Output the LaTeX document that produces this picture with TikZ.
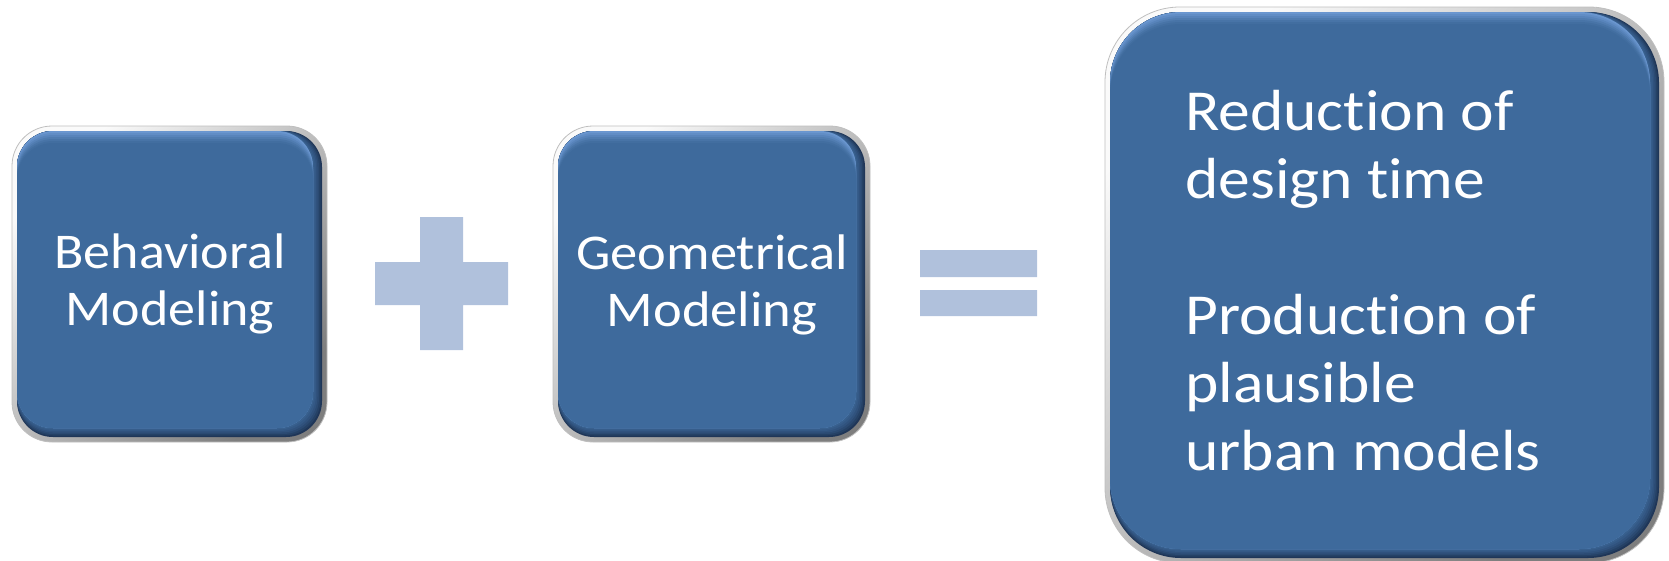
\documentclass[tikz,border=0pt]{standalone}
\usepackage{fontspec}
\setmainfont{Carlito}[Ligatures={NoCommon}]
\usepackage{graphicx}

\definecolor{bmain}{HTML}{3E6A9C}
\definecolor{bdark}{HTML}{1F3658}
\definecolor{bhigh}{HTML}{6A96CF}
\definecolor{framehi}{HTML}{FAFAFA}
\definecolor{framelo}{HTML}{7E7E7E}
\definecolor{opcol}{HTML}{B0C1DC}

% Beveled blue box with a light frame: left, top, right, bottom, corner radius
\newcommand\bevelbox[5]{%
  \pgfmathsetmacro\bxa{#1}\pgfmathsetmacro\bya{#2}%
  \pgfmathsetmacro\bxb{#3}\pgfmathsetmacro\byb{#4}%
  \pgfmathsetmacro\brad{#5}\pgfmathsetmacro\bradi{#5-4}%
  % outer frame
  \path[rounded corners=\brad pt, top color=framehi, bottom color=framelo,
        shading angle=45, draw=black!25, line width=0.8pt]
        (\bxa,\bya) rectangle (\bxb,\byb);
  % dark edge fading inwards along right and bottom
  \fill[bdark, rounded corners=\bradi pt] (\bxa+5,\bya+5) rectangle (\bxb-5,\byb-5);
  \foreach \k/\c in {1.5/80,3/62,4.5/46,6/32,7.5/20,9/10}{
    \fill[bdark!\c!bmain, rounded corners=\bradi pt]
      (\bxa+5,\bya+5) rectangle (\bxb-5-\k,\byb-5-\k);
  }
  % light edge fading downwards along the top
  \foreach \j/\c in {0/100,2/80,4/60,6/40,8/22,10/8,12/0}{
    \fill[bhigh!\c!bmain, rounded corners=\bradi pt]
      (\bxa+5,\bya+5+\j) rectangle (\bxb-14,\byb-14);
  }
}

\tikzset{
  lbl/.style={text=white, inner sep=0pt, font=\fontsize{50}{57}\selectfont},
  biglbl/.style={text=white, inner sep=0pt, font=\fontsize{58}{68}\selectfont},
  opsign/.style={fill=opcol}
}

\begin{document}
\begin{tikzpicture}[x=1pt, y=-1pt]
  \clip (0,0) rectangle (1669,560);

  % the three boxes
  \bevelbox{12}{126}{327}{442}{40}
  \bevelbox{553}{126}{870}{442}{40}
  \bevelbox{1105}{7}{1664}{563}{75}

  % plus sign
  \fill[opsign] (375,262) rectangle (508,305) (420,217) rectangle (463,350);
  % equals sign
  \fill[opsign] (920,250) rectangle (1037,277) (920,290) rectangle (1037,316);

  % labels
  \node[lbl, anchor=base] (beh) at (170,268)
    {\scalebox{1.08}[1]{\begin{tabular}[t]{@{}c@{}}Behavioral\\Modeling\end{tabular}}};
  \node[lbl, anchor=base] (geo) at (712,269)
    {\scalebox{1.09}[1]{\begin{tabular}[t]{@{}c@{}}Geometrical\\Modeling\end{tabular}}};
  \node[biglbl, anchor=base west] (res) at (1185,130)
    {\scalebox{1.095}[1]{\begin{tabular}[t]{@{}l@{}}Reduction of\\design time\\ \\Production of\\plausible\\urban models\end{tabular}}};
\end{tikzpicture}
\end{document}
